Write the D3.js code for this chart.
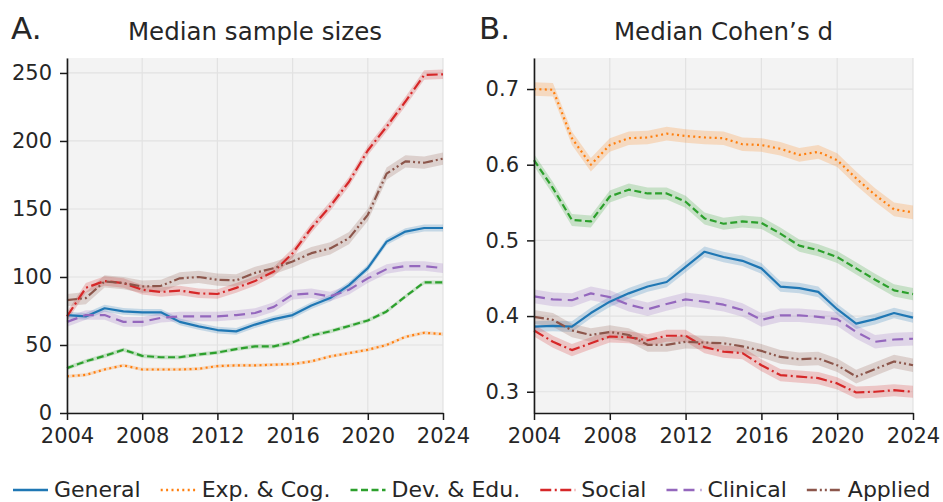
<!DOCTYPE html>
<html><head><meta charset="utf-8">
<script src="https://cdn.jsdelivr.net/npm/d3@7"></script>
<style>body{margin:0;background:#fff} svg{display:block;font-family:"DejaVu Sans",sans-serif}</style>
</head><body><svg id="c" width="943" height="502"></svg>
<script>
// ---------- DATA ----------
const years = [2004,2005,2006,2007,2008,2009,2010,2011,2012,2013,2014,2015,2016,2017,2018,2019,2020,2021,2022,2023,2024];
const seriesNames = ["General","Exp. & Cog.","Dev. & Edu.","Social","Clinical","Applied"];

// Panel A: median sample sizes
const sampleGeneral  = [72,71,77,74.7,74,74,67,63.7,61,60,65,69,72,79,84.5,94,106.5,126,133.4,136,136];
const sampleExpCog   = [27,28,32,35,32,32,32,32.5,34.5,35,35,35.5,36,38,41.6,44,46.5,50,56,59,58];
const sampleDevEdu   = [33,38,42,46.5,42,41,41,43,44.5,47,49,49,52,57,60,64,68,74.7,85.7,96,96];
const sampleSocial   = [71,92,97,95.5,90.6,89,90,88,87.5,92,97,104,117.5,136,152,170,193,210.5,229,248.5,249];
const sampleClinical = [67,72,72,67,67,70,71,71,71,72,73.5,78,87,88,85.7,90.6,99,105.8,108,108,106.5];
const sampleApplied  = [83,84.5,96.7,95.5,93,93.5,99,100,98,97.5,103,106.5,111.4,117.5,121,128.5,145.7,176,185,184,187];
const sampleCI = [2.5,1.2,1.5,3.5,3.5,4.5];

// Panel B: median Cohen's d
const cohenGeneral  = [0.386,0.387,0.386,0.404,0.419,0.430,0.439,0.445,0.465,0.485,0.478,0.473,0.463,0.439,0.437,0.432,0.409,0.390,0.396,0.404,0.398];
const cohenExpCog   = [0.700,0.699,0.635,0.600,0.626,0.635,0.636,0.641,0.638,0.636,0.635,0.627,0.626,0.621,0.613,0.617,0.606,0.582,0.560,0.541,0.537];
const cohenDevEdu   = [0.606,0.569,0.527,0.525,0.558,0.567,0.562,0.562,0.551,0.529,0.522,0.525,0.523,0.509,0.493,0.487,0.478,0.463,0.448,0.434,0.429];
const cohenSocial   = [0.381,0.366,0.355,0.364,0.373,0.372,0.368,0.374,0.374,0.359,0.353,0.351,0.335,0.322,0.320,0.318,0.311,0.299,0.300,0.302,0.300];
const cohenClinical = [0.426,0.422,0.421,0.430,0.425,0.415,0.409,0.416,0.422,0.419,0.415,0.408,0.395,0.401,0.401,0.399,0.396,0.379,0.366,0.369,0.370];
const cohenApplied  = [0.399,0.395,0.381,0.375,0.379,0.375,0.362,0.362,0.366,0.365,0.364,0.360,0.354,0.346,0.343,0.344,0.335,0.320,0.330,0.340,0.335];
const cohenCI = [0.007,0.009,0.008,0.008,0.009,0.009];

const xTicks = [2004,2008,2012,2016,2020,2024];
const yTicksA = [0,50,100,150,200,250];
const yTicksB = [0.3,0.4,0.5,0.6,0.7];

// ---------- STYLE ----------
const colors = ["#1f77b4","#ff7f0e","#2ca02c","#d62728","#9467bd","#8c564b"];
const dashes = [null,"2,3.4","7,3.5","11,3.5,2,3.5","11,6","10,3,2,3,2,3"];
const LW = 2.2;
const txt = "#262626";

const svg = d3.select("#c");

function panel(opts){
  const {x0,x1,y0,y1,yDomain,yTicks,fmt,seriesData,ci,letter,title,letterX,titleY} = opts;
  const x = d3.scaleLinear().domain([2004,2024]).range([x0,x1]);
  const y = d3.scaleLinear().domain(yDomain).range([y1,y0]);
  const g = svg.append("g");
  g.append("rect").attr("x",x0).attr("y",y0).attr("width",x1-x0).attr("height",y1-y0).attr("fill","#f3f3f3");
  // grid
  g.selectAll(".vg").data(xTicks).enter().append("line")
    .attr("x1",d=>x(d)).attr("x2",d=>x(d)).attr("y1",y0).attr("y2",y1)
    .attr("stroke","#e2e2e2").attr("stroke-width",1.2);
  g.selectAll(".hg").data(yTicks).enter().append("line")
    .attr("x1",x0).attr("x2",x1).attr("y1",d=>y(d)).attr("y2",d=>y(d))
    .attr("stroke","#e2e2e2").attr("stroke-width",1.2);
  // bands
  seriesData.forEach((vals,i)=>{
    const area = d3.area().x((d,j)=>x(years[j])).y0(d=>y(d-ci[i])).y1(d=>y(d+ci[i]));
    g.append("path").attr("d",area(vals)).attr("fill",colors[i]).attr("fill-opacity",0.22);
  });
  // lines
  seriesData.forEach((vals,i)=>{
    const line = d3.line().x((d,j)=>x(years[j])).y(d=>y(d));
    const p = g.append("path").attr("d",line(vals)).attr("fill","none")
      .attr("stroke",colors[i]).attr("stroke-width",LW).attr("stroke-linejoin","round");
    if(dashes[i]) p.attr("stroke-dasharray",dashes[i]);
  });
  // axes
  const ax = g.append("g").attr("transform",`translate(0,${y1})`)
    .call(d3.axisBottom(x).tickValues(xTicks).tickFormat(d3.format("d")).tickSize(7).tickPadding(8).tickSizeOuter(0));
  const ay = g.append("g").attr("transform",`translate(${x0},0)`)
    .call(d3.axisLeft(y).tickValues(yTicks).tickFormat(fmt).tickSize(7).tickPadding(8).tickSizeOuter(0));
  [ax,ay].forEach(a=>{
    a.select(".domain").attr("stroke","#1a1a1a").attr("stroke-width",1.6);
    a.selectAll(".tick line").attr("stroke","#1a1a1a").attr("stroke-width",1.5);
    a.selectAll("text").attr("fill",txt).style("font-size","21px").style("font-family","DejaVu Sans");
  });
  // titles
  svg.append("text").attr("x",letterX).attr("y",39).text(letter)
    .attr("fill",txt).style("font-size","31px");
  svg.append("text").attr("x",(x0+x1)/2).attr("y",titleY).attr("text-anchor","middle").text(title)
    .attr("fill",txt).style("font-size","24.5px");
}

panel({x0:67,x1:443,y0:58,y1:413,yDomain:[0,261],yTicks:yTicksA,fmt:d3.format("d"),
  seriesData:[sampleGeneral,sampleExpCog,sampleDevEdu,sampleSocial,sampleClinical,sampleApplied],
  ci:sampleCI,letter:"A.",title:"Median sample sizes",letterX:11,titleY:40});
panel({x0:534,x1:913,y0:58,y1:413,yDomain:[0.2719,0.741],yTicks:yTicksB,fmt:d3.format(".1f"),
  seriesData:[cohenGeneral,cohenExpCog,cohenDevEdu,cohenSocial,cohenClinical,cohenApplied],
  ci:cohenCI,letter:"B.",title:"Median Cohen\u2019s d",letterX:479,titleY:40});

// legend
const leg = svg.append("g");
let lx = 13;
const ly = 490;
seriesNames.forEach((name,i)=>{
  const l = leg.append("line").attr("x1",lx).attr("x2",lx+35).attr("y1",ly).attr("y2",ly)
    .attr("stroke",colors[i]).attr("stroke-width",LW+0.3);
  if(dashes[i]) l.attr("stroke-dasharray",dashes[i]);
  const t = leg.append("text").attr("x",lx+41).attr("y",497).text(name)
    .attr("fill",txt).style("font-size","22px");
  lx = lx + 41 + t.node().getComputedTextLength() + 20;
});
</script></body></html>
